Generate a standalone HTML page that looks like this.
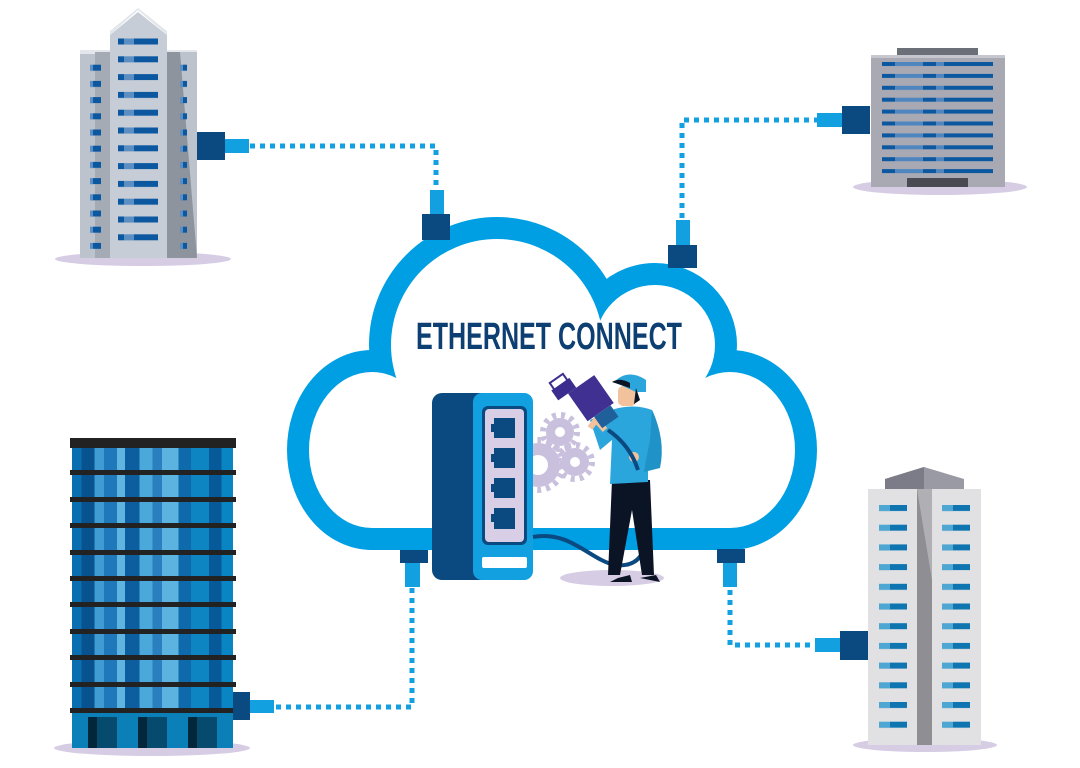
<!DOCTYPE html>
<html><head><meta charset="utf-8"><style>
html,body{margin:0;padding:0;background:#fff;width:1080px;height:768px;overflow:hidden}
</style></head><body>
<svg width="1080" height="768" viewBox="0 0 1080 768" xmlns="http://www.w3.org/2000/svg">
<defs>
<pattern id="wc" x="118" y="38.5" width="60" height="17.8" patternUnits="userSpaceOnUse">
<rect x="0" y="0" width="40" height="6" fill="#0b58a0"/><rect x="6" y="0" width="10" height="6" fill="#5b8fc4"/></pattern>
<pattern id="ws" x="90" y="64.7" width="30" height="16.2" patternUnits="userSpaceOnUse">
<rect x="0" y="0" width="11" height="6" fill="#0b58a0"/><rect x="0" y="0" width="3" height="6" fill="#5b8fc4"/></pattern>
<pattern id="wtr" x="882" y="62" width="200" height="11.9" patternUnits="userSpaceOnUse">
<rect x="0" y="0" width="111" height="4" fill="#0b58a0"/><rect x="13" y="0" width="28" height="4" fill="#4f86c0"/><rect x="54" y="0" width="8" height="4" fill="#4f86c0"/></pattern>
<pattern id="wbr" x="879" y="505" width="63" height="19.7" patternUnits="userSpaceOnUse">
<rect x="0" y="0" width="28" height="6" fill="#0e75b0"/><rect x="0" y="0" width="11" height="6" fill="#4ea6d3"/></pattern>
<linearGradient id="gb" x1="72" x2="233" gradientUnits="userSpaceOnUse">
<stop offset="0" stop-color="#0a6fb0"/><stop offset="0.06" stop-color="#0a6fb0"/><stop offset="0.06" stop-color="#07528f"/><stop offset="0.14" stop-color="#07528f"/>
<stop offset="0.14" stop-color="#3f9bd2"/><stop offset="0.2" stop-color="#3f9bd2"/><stop offset="0.2" stop-color="#1f78ba"/><stop offset="0.28" stop-color="#1f78ba"/>
<stop offset="0.28" stop-color="#5fb4e0"/><stop offset="0.33" stop-color="#5fb4e0"/><stop offset="0.33" stop-color="#0c5e9e"/><stop offset="0.42" stop-color="#0c5e9e"/>
<stop offset="0.42" stop-color="#4aa8da"/><stop offset="0.5" stop-color="#4aa8da"/><stop offset="0.5" stop-color="#2a7fbe"/><stop offset="0.56" stop-color="#2a7fbe"/>
<stop offset="0.56" stop-color="#5cb3df"/><stop offset="0.66" stop-color="#5cb3df"/><stop offset="0.66" stop-color="#0e6aab"/><stop offset="0.74" stop-color="#0e6aab"/>
<stop offset="0.74" stop-color="#0d85c2"/><stop offset="0.85" stop-color="#0d85c2"/><stop offset="0.85" stop-color="#075a99"/><stop offset="0.93" stop-color="#075a99"/>
<stop offset="0.93" stop-color="#0a85c3"/><stop offset="1" stop-color="#0a85c3"/></linearGradient>
</defs>

<!-- shadows -->
<ellipse cx="143" cy="259" rx="88" ry="7" fill="#d6cce4"/>
<ellipse cx="940" cy="187" rx="87" ry="8" fill="#d6cce4"/>
<ellipse cx="152" cy="748" rx="98" ry="8" fill="#d6cce4"/>
<ellipse cx="925" cy="745" rx="72" ry="7" fill="#d6cce4"/>
<ellipse cx="612" cy="578" rx="52" ry="8" fill="#d6cce4"/>

<!-- dotted lines -->
<g fill="none" stroke="#12a0e0" stroke-width="5" stroke-dasharray="5 5">
<path d="M250 146 H436 V188"/>
<path d="M682 218 V120 H817"/>
<path d="M412 588 V707 H275"/>
<path d="M730 590 V645 H813"/>
</g>

<!-- top-left building -->
<rect x="80" y="52" width="100" height="206" fill="#bcc3cd"/>
<rect x="80" y="50" width="117" height="4" fill="#e3e6ea"/>
<rect x="95" y="52" width="15" height="206" fill="#a4abb5"/>
<rect x="167" y="52" width="30" height="206" fill="#bcc3cd"/>
<polygon points="167,52 180,52 197,258 167,258" fill="#8d949e"/>
<polygon points="110,35 138,12 167,35 167,258 110,258" fill="#c6cdd6"/>
<polygon points="110,35 138,10 167,35 167,31 138,8 110,31" fill="#e3e6ea"/>
<rect x="118" y="38" width="41" height="210" fill="url(#wc)"/>
<rect x="90" y="64" width="12" height="185" fill="url(#ws)"/>
<rect x="175" y="64" width="12" height="185" fill="url(#ws)"/>
<rect x="197" y="132" width="28" height="28" fill="#0b4a80"/>
<rect x="225" y="139" width="24" height="14" fill="#12a0e0"/>

<!-- top-right building -->
<rect x="897" y="48" width="81" height="8" fill="#6b7078"/>
<rect x="871" y="55" width="134" height="132" fill="#a9a9b3"/>
<rect x="871" y="55" width="134" height="3" fill="#c6c6cf"/>
<rect x="882" y="62" width="111" height="112" fill="url(#wtr)"/>
<rect x="907" y="178" width="61" height="9" fill="#4a4a52"/>
<rect x="842" y="106" width="28" height="28" fill="#0b4a80"/>
<rect x="817" y="113" width="25" height="14" fill="#12a0e0"/>

<!-- bottom-left building -->
<rect x="72" y="440" width="161" height="308" fill="url(#gb)"/>
<rect x="70" y="438" width="166" height="10" fill="#222"/>
<g fill="#222">
<rect x="70" y="470" width="166" height="5"/><rect x="70" y="497" width="166" height="5"/><rect x="70" y="523" width="166" height="5"/>
<rect x="70" y="550" width="166" height="5"/><rect x="70" y="576" width="166" height="5"/><rect x="70" y="602" width="166" height="5"/>
<rect x="70" y="629" width="166" height="5"/><rect x="70" y="655" width="166" height="5"/><rect x="70" y="682" width="166" height="5"/>
<rect x="70" y="708" width="166" height="5"/></g>
<rect x="72" y="713" width="161" height="35" fill="#0a7fb8"/>
<rect x="88" y="717" width="29" height="31" fill="#064a6e"/><rect x="88" y="717" width="9" height="31" fill="#02263a"/>
<rect x="138" y="717" width="29" height="31" fill="#064a6e"/><rect x="138" y="717" width="9" height="31" fill="#02263a"/>
<rect x="188" y="717" width="29" height="31" fill="#064a6e"/><rect x="188" y="717" width="9" height="31" fill="#02263a"/>
<rect x="233" y="692" width="17" height="28" fill="#0b4a80"/>
<rect x="250" y="700" width="24" height="13" fill="#12a0e0"/>

<!-- bottom-right building -->
<polygon points="885,479 924,467 964,479 964,489 885,489" fill="#9a9aa4"/>
<polygon points="885,479 924,467 924,489 885,489" fill="#7c7c88"/>
<rect x="868" y="489" width="113" height="256" fill="#e1e1e3"/>
<rect x="917" y="489" width="15" height="256" fill="#8f8f93"/>
<polygon points="917,489 932,489 932,580" fill="#b0b0b4"/>
<rect x="879" y="505" width="93" height="230" fill="url(#wbr)"/>
<rect x="840" y="631" width="28" height="29" fill="#0b4a80"/>
<rect x="815" y="638" width="25" height="14" fill="#12a0e0"/>

<!-- cloud -->
<g fill="#009fe3" stroke="#009fe3" stroke-width="44" stroke-linejoin="round">
<ellipse cx="372" cy="450" rx="63" ry="78"/><circle cx="497" cy="345" r="106"/><circle cx="655" cy="345" r="60"/><ellipse cx="730" cy="450" rx="65" ry="78"/>
<rect x="372" y="405" width="358" height="123"/><rect x="500" y="330" width="200" height="198"/><rect x="420" y="380" width="290" height="148"/>
</g>
<g fill="#fff">
<ellipse cx="372" cy="450" rx="63" ry="78"/><circle cx="497" cy="345" r="106"/><circle cx="655" cy="345" r="60"/><ellipse cx="730" cy="450" rx="65" ry="78"/>
<rect x="372" y="405" width="358" height="123"/><rect x="500" y="330" width="200" height="198"/><rect x="420" y="380" width="290" height="148"/>
</g>

<!-- cloud connectors -->
<rect x="430" y="190" width="14" height="24" fill="#12a0e0"/>
<rect x="422" y="214" width="28" height="26" fill="#0b4a80"/>
<rect x="676" y="220" width="14" height="25" fill="#12a0e0"/>
<rect x="668" y="245" width="29" height="23" fill="#0b4a80"/>
<rect x="400" y="550" width="28" height="13" fill="#0b4a80"/>
<rect x="405" y="563" width="15" height="24" fill="#12a0e0"/>
<rect x="717" y="549" width="28" height="14" fill="#0b4a80"/>
<rect x="723" y="563" width="14" height="24" fill="#12a0e0"/>

<text x="416" y="349" font-family="Liberation Sans, sans-serif" font-weight="bold" font-size="38" fill="#0d3f73" textLength="266" lengthAdjust="spacingAndGlyphs">ETHERNET CONNECT</text>

<!-- gears -->
<g fill="#c9c0de">
<circle cx="560" cy="432" r="14"/><circle cx="575" cy="462" r="14"/><circle cx="538" cy="465" r="22"/>
<g stroke="#c9c0de" stroke-width="6" stroke-dasharray="4 5"><circle cx="560" cy="432" r="17" fill="none"/><circle cx="575" cy="462" r="17" fill="none"/><circle cx="538" cy="465" r="25" fill="none"/></g>
</g>
<circle cx="560" cy="432" r="5" fill="#fff"/><circle cx="575" cy="462" r="5" fill="#fff"/><circle cx="538" cy="465" r="10" fill="#fff"/>

<!-- switch -->
<rect x="432" y="393" width="60" height="187" rx="10" fill="#0b4a80"/>
<rect x="473" y="393" width="60" height="187" rx="9" fill="#12a0e0"/>
<rect x="482" y="406" width="45" height="139" rx="6" fill="#0b4a80"/>
<rect x="485" y="409" width="39" height="133" rx="4" fill="#d8cfe6"/>
<g fill="#0b4a80">
<rect x="494" y="418" width="21" height="20"/><rect x="491" y="424" width="4" height="8"/>
<rect x="494" y="448" width="21" height="20"/><rect x="491" y="454" width="4" height="8"/>
<rect x="494" y="478" width="21" height="20"/><rect x="491" y="484" width="4" height="8"/>
<rect x="494" y="508" width="21" height="21"/><rect x="491" y="514" width="4" height="8"/></g>
<rect x="482" y="557" width="45" height="11" rx="2" fill="#fff"/>

<!-- person -->
<path d="M533 537 C570 530 590 560 615 565 C640 568 650 550 645 520 C640 490 635 470 615 440" fill="none" stroke="#0b4a80" stroke-width="4"/>
<path d="M612 480 L608 575 L620 575 L632 510 L642 575 L654 575 L650 480 Z" fill="#0b1424"/>
<path d="M618 578 L610 582 L632 582 L630 575 Z" fill="#0b1424"/>
<path d="M640 578 L660 582 L656 575 Z" fill="#0b1424"/>
<path d="M606 412 Q630 402 652 410 Q662 430 660 460 L648 465 L648 482 L610 484 L612 440 L600 450 L590 420 L597 417 L604 428 Z" fill="#2aa6dc"/>
<path d="M652 410 Q666 440 660 468 L644 472 L646 460 L650 440 Z" fill="#1f92c8"/>
<circle cx="634" cy="457" r="5" fill="#f2c29c"/>
<rect x="618" y="386" width="18" height="20" rx="5" fill="#f2c29c"/>
<path d="M614 382 Q628 368 646 380 L646 392 L636 392 Z" fill="#2aa6dc"/>
<path d="M612 382 Q620 377 630 383 L630 388 Z" fill="#0b1424"/>
<path d="M636 388 L640 400 L634 404 Z" fill="#0b1424"/>
<path d="M605 430 L596 420 L590 428" fill="none" stroke="#f2c29c" stroke-width="6"/>
<g transform="rotate(-35 585 395)">
<rect x="560" y="372" width="22" height="12" fill="#3a2d8f"/>
<rect x="563" y="365" width="16" height="8" fill="#fff" stroke="#3a2d8f" stroke-width="2"/>
<rect x="572" y="384" width="32" height="34" fill="#3f3091"/>
<rect x="580" y="418" width="20" height="14" fill="#1f5f9a"/>
</g>
<path d="M608 430 Q630 445 638 470" fill="none" stroke="#0b4a80" stroke-width="4"/>
</svg>
</body></html>
